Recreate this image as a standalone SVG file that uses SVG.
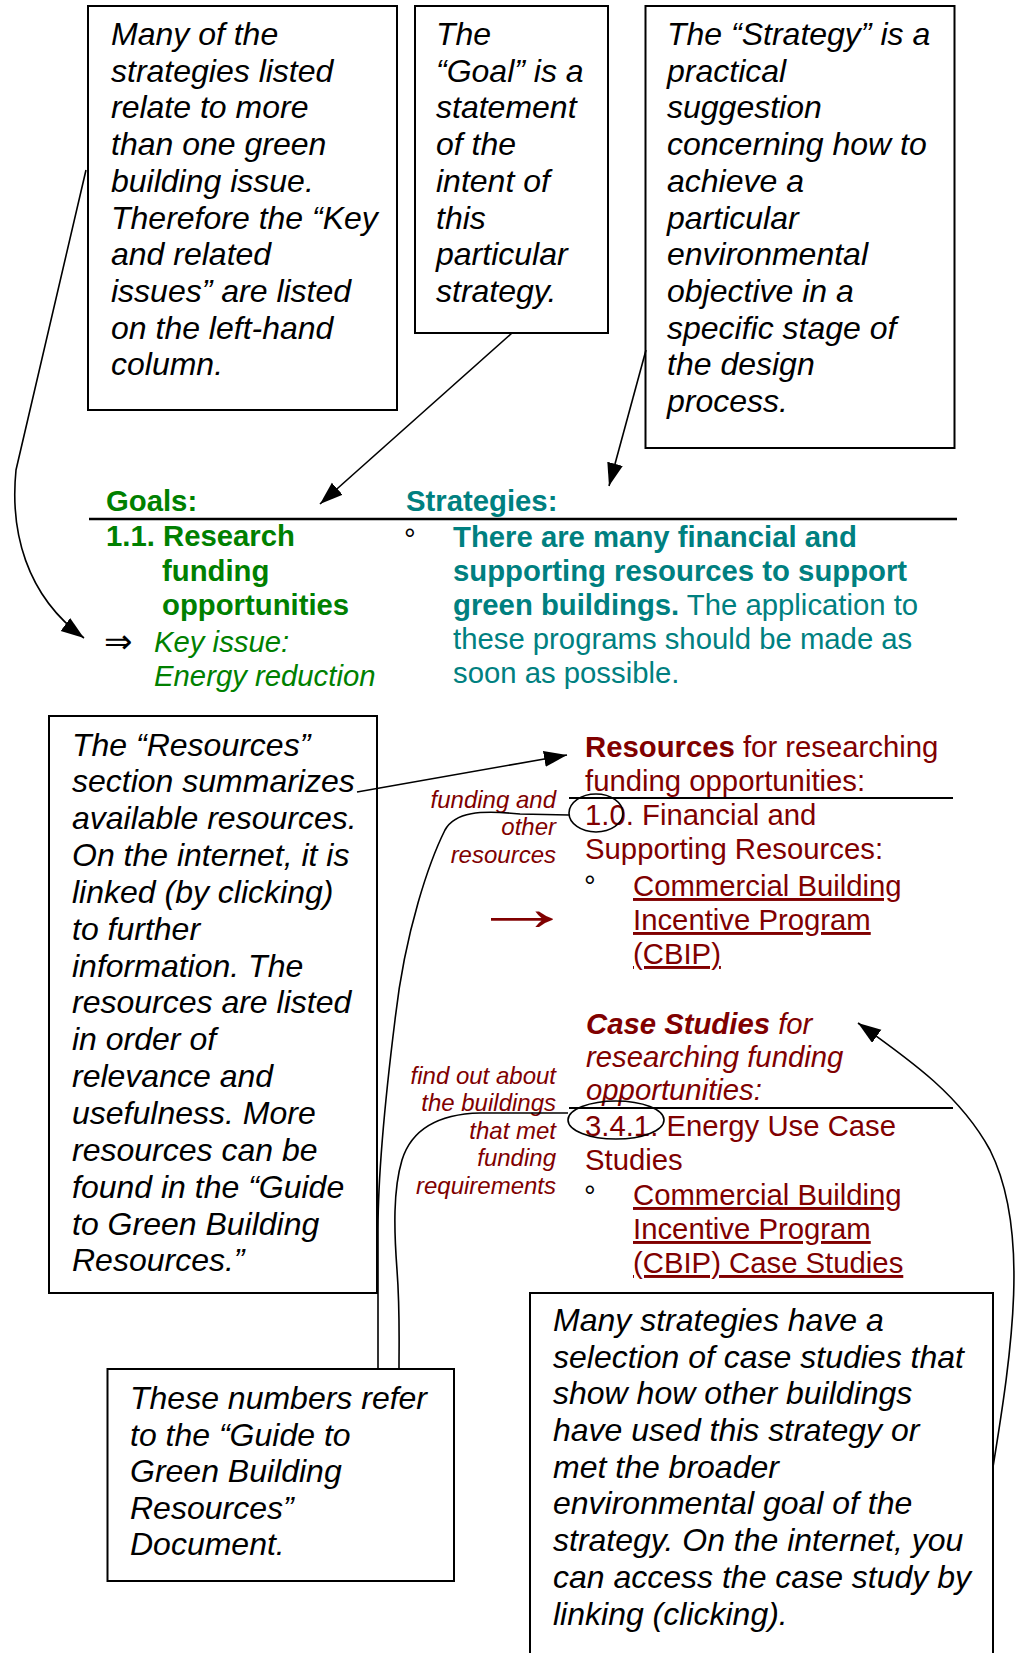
<svg xmlns="http://www.w3.org/2000/svg" width="1017" height="1653" viewBox="0 0 1017 1653">
<style>
  text { font-family: "Liberation Sans", Arial, "DejaVu Sans", sans-serif; }
  .note { font-size: 32px; font-style: italic; fill: #000; }
  .box { fill: #fff; stroke: #000; stroke-width: 2; }
  .conn { fill: none; stroke: #000; stroke-width: 1.6; }
  .green { fill: #008000; font-size: 29.3px; }
  .teal { fill: #008080; font-size: 29.3px; }
  .red { fill: #800000; font-size: 29.3px; }
  .small { fill: #800000; font-size: 24px; font-style: italic; text-anchor: end; }
  .bullet { fill: #000; font-size: 29.3px; }
  .b { font-weight: bold; }
  .i { font-style: italic; }
  .u { text-decoration: underline; }
  .rule { stroke: #000; stroke-width: 2.5; }
</style>
<defs>
  <marker id="ah" markerUnits="userSpaceOnUse" markerWidth="24" markerHeight="18" refX="23" refY="8" orient="auto">
    <path d="M0,0 L23,8 L0,16 z" fill="#000"/>
  </marker>
</defs>
<rect width="1017" height="1653" fill="#fff"/>

<g id="note-key-issues">
  <rect class="box" x="88" y="6" width="309" height="404"/>
  <text class="note" x="111" y="45">Many of the</text>
  <text class="note" x="111" y="81.7">strategies listed</text>
  <text class="note" x="111" y="118.4">relate to more</text>
  <text class="note" x="111" y="155.1">than one green</text>
  <text class="note" x="111" y="191.8">building issue.</text>
  <text class="note" x="111" y="228.5">Therefore the “Key</text>
  <text class="note" x="111" y="265.2">and related</text>
  <text class="note" x="111" y="301.9">issues” are listed</text>
  <text class="note" x="111" y="338.6">on the left-hand</text>
  <text class="note" x="111" y="375.3">column.</text>
</g>

<g id="note-goal">
  <rect class="box" x="415" y="6" width="193" height="327"/>
  <text class="note" x="436" y="45">The</text>
  <text class="note" x="436" y="81.7">“Goal” is a</text>
  <text class="note" x="436" y="118.4">statement</text>
  <text class="note" x="436" y="155.1">of the</text>
  <text class="note" x="436" y="191.8">intent of</text>
  <text class="note" x="436" y="228.5">this</text>
  <text class="note" x="436" y="265.2">particular</text>
  <text class="note" x="436" y="301.9">strategy.</text>
</g>

<g id="note-strategy">
  <rect class="box" x="645.5" y="6" width="309" height="442"/>
  <text class="note" x="667" y="45">The “Strategy” is a</text>
  <text class="note" x="667" y="81.7">practical</text>
  <text class="note" x="667" y="118.4">suggestion</text>
  <text class="note" x="667" y="155.1">concerning how to</text>
  <text class="note" x="667" y="191.8">achieve a</text>
  <text class="note" x="667" y="228.5">particular</text>
  <text class="note" x="667" y="265.2">environmental</text>
  <text class="note" x="667" y="301.9">objective in a</text>
  <text class="note" x="667" y="338.6">specific stage of</text>
  <text class="note" x="667" y="375.3">the design</text>
  <text class="note" x="667" y="412">process.</text>
</g>

<g id="goals-strategies">
  <text class="green b" x="106" y="511">Goals:</text>
  <text class="teal b" x="406" y="511">Strategies:</text>
  <line class="rule" x1="89" y1="519" x2="957" y2="519"/>
  <text class="green b" x="106" y="546">1.1. Research</text>
  <text class="green b" x="162" y="580.5">funding</text>
  <text class="green b" x="162" y="615">opportunities</text>
  <text x="104" y="653" style="font-family:'DejaVu Sans',sans-serif;font-size:34px;fill:#000">⇒</text>
  <text class="green i" x="154" y="652">Key issue:</text>
  <text class="green i" x="154" y="686">Energy reduction</text>
  <text class="bullet" x="404" y="549">°</text>
  <text class="teal b" x="453" y="547">There are many financial and</text>
  <text class="teal b" x="453" y="581">supporting resources to support</text>
  <text class="teal" x="453" y="615"><tspan class="b">green buildings.</tspan> The application to</text>
  <text class="teal" x="453" y="649">these programs should be made as</text>
  <text class="teal" x="453" y="683">soon as possible.</text>
</g>

<g id="note-resources">
  <rect class="box" x="49" y="716" width="328" height="577"/>
  <text class="note" x="72" y="755.5">The “Resources”</text>
  <text class="note" x="72" y="792.3">section summarizes</text>
  <text class="note" x="72" y="829.2">available resources.</text>
  <text class="note" x="72" y="866">On the internet, it is</text>
  <text class="note" x="72" y="902.9">linked (by clicking)</text>
  <text class="note" x="72" y="939.7">to further</text>
  <text class="note" x="72" y="976.6">information. The</text>
  <text class="note" x="72" y="1013.4">resources are listed</text>
  <text class="note" x="72" y="1050.3">in order of</text>
  <text class="note" x="72" y="1087.1">relevance and</text>
  <text class="note" x="72" y="1124">usefulness. More</text>
  <text class="note" x="72" y="1160.8">resources can be</text>
  <text class="note" x="72" y="1197.7">found in the “Guide</text>
  <text class="note" x="72" y="1234.5">to Green Building</text>
  <text class="note" x="72" y="1271.4">Resources.”</text>
</g>

<g id="resources-section">
  <text class="red" x="585" y="757"><tspan class="b">Resources</tspan> for researching</text>
  <text class="red" x="585" y="791">funding opportunities:</text>
  <line x1="569" y1="798" x2="953" y2="798" stroke="#000" stroke-width="2"/>
  <text class="red" x="585" y="825">1.0. Financial and</text>
  <text class="red" x="585" y="859">Supporting Resources:</text>
  <text class="bullet" x="584" y="896">°</text>
  <text class="red u" x="633" y="896">Commercial Building</text>
  <text class="red u" x="633" y="930">Incentive Program</text>
  <text class="red u" x="633" y="964">(CBIP)</text>
  <text class="small" x="556" y="808">funding and</text>
  <text class="small" x="556" y="835">other</text>
  <text class="small" x="556" y="863">resources</text>
  <text transform="translate(470,930) scale(1.9,1.2)" style="font-size:55px;fill:#800000">→</text>
</g>

<g id="case-studies-section">
  <text class="red i" x="586" y="1034"><tspan class="b">Case Studies</tspan> for</text>
  <text class="red i" x="586" y="1067">researching funding</text>
  <text class="red i" x="586" y="1100">opportunities:</text>
  <line x1="569" y1="1108" x2="953" y2="1108" stroke="#000" stroke-width="2"/>
  <text class="red" x="585" y="1136">3.4.1. Energy Use Case</text>
  <text class="red" x="585" y="1170">Studies</text>
  <text class="bullet" x="584" y="1206">°</text>
  <text class="red u" x="633" y="1205">Commercial Building</text>
  <text class="red u" x="633" y="1239">Incentive Program</text>
  <text class="red u" x="633" y="1273">(CBIP) Case Studies</text>
  <text class="small" x="556" y="1084">find out about</text>
  <text class="small" x="556" y="1111">the buildings</text>
  <text class="small" x="556" y="1139">that met</text>
  <text class="small" x="556" y="1166">funding</text>
  <text class="small" x="556" y="1194">requirements</text>
</g>

<g id="note-numbers">
  <rect class="box" x="107.5" y="1369" width="346.5" height="212"/>
  <text class="note" x="130" y="1409">These numbers refer</text>
  <text class="note" x="130" y="1446">to the “Guide to</text>
  <text class="note" x="130" y="1482">Green Building</text>
  <text class="note" x="130" y="1519">Resources”</text>
  <text class="note" x="130" y="1555">Document.</text>
</g>

<g id="note-case-studies">
  <rect class="box" x="530" y="1293" width="463" height="420"/>
  <text class="note" x="553" y="1331">Many strategies have a</text>
  <text class="note" x="553" y="1368">selection of case studies that</text>
  <text class="note" x="553" y="1404">show how other buildings</text>
  <text class="note" x="553" y="1441">have used this strategy or</text>
  <text class="note" x="553" y="1478">met the broader</text>
  <text class="note" x="553" y="1514">environmental goal of the</text>
  <text class="note" x="553" y="1551">strategy. On the internet, you</text>
  <text class="note" x="553" y="1588">can access the case study by</text>
  <text class="note" x="553" y="1625">linking (clicking).</text>
</g>

<g id="connectors">
  <path class="conn" d="M86,170 L16,470 C10,530 25,595 84,638" marker-end="url(#ah)"/>
  <path class="conn" d="M512,333 L320,504" marker-end="url(#ah)"/>
  <path class="conn" d="M646,350 L609,486" marker-end="url(#ah)"/>
  <path class="conn" d="M357,792 L567,755" marker-end="url(#ah)"/>
  <path class="conn" d="M993,1467 C1012,1350 1030,1230 990,1150 C960,1095 910,1060 858,1023" marker-end="url(#ah)"/>
  <ellipse class="conn" cx="596" cy="813" rx="27" ry="19"/>
  <ellipse class="conn" cx="616" cy="1120" rx="48" ry="19"/>
  <path class="conn" d="M569,815 L520,814 C480,810 455,812 445,830 C430,860 405,930 395,1020 C385,1100 378,1180 378,1230 L378,1369"/>
  <path class="conn" d="M568,1113 L480,1113 C440,1114 412,1128 402,1160 C393,1190 394,1230 397,1270 C400,1310 399,1340 399,1369"/>
</g>
</svg>
